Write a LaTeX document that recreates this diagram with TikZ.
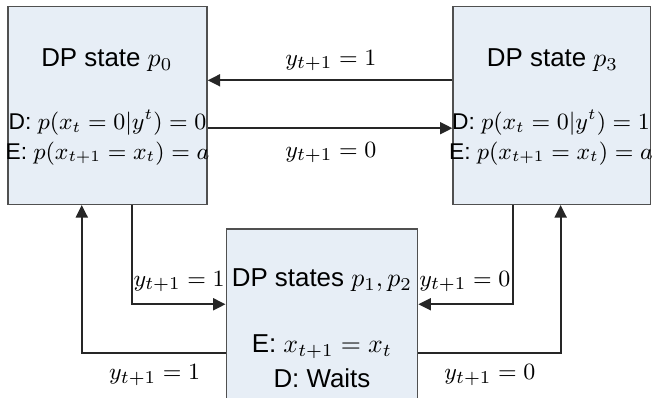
\documentclass[tikz,border=0pt]{standalone}
\usepackage{fontspec}
\setsansfont{Liberation Sans}
\usepackage{xcolor}
\usepackage{tikz}
\usetikzlibrary{arrows.meta,positioning,calc}
\definecolor{dpF}{HTML}{E7EEF6}
\definecolor{dpD}{HTML}{505050}

\begin{document}
\begin{tikzpicture}[x=1cm,y=1cm, font=\sffamily\fontsize{10}{12}\selectfont,
  state/.style={draw=dpD, line width=0.5pt, fill=dpF, inner sep=0pt},
  rule/.style={inner sep=0pt, font=\sffamily\fontsize{8.8}{10}\selectfont},
  arr/.style={-{Triangle[length=4.8pt,width=4.6pt]}, line width=0.8pt, draw=black!85},
  lab/.style={inner sep=1pt, font=\fontsize{9.5}{11}\selectfont},
  ]
\useasboundingbox (0,0) rectangle (8.85,5.39);
% ---- the states
\node[state, minimum width=2.70cm, minimum height=2.69cm] (p0)  at (1.46,3.96) {};
\node[state, minimum width=2.68cm, minimum height=2.69cm] (p3)  at (7.49,3.96) {};
\node[state, minimum width=2.60cm, minimum height=2.50cm] (p12) at (4.37,1.03) {};
% ---- what they hold
\node (t0)  at (1.45,4.57) {DP state $p_0$};
\node[rule] (d0)  at (1.46,3.72) {D: $p(x_t=0|y^t)=0$};
\node[rule] (e0)  at (1.46,3.31) {E: $p(x_{t+1}=x_t)=a$};
\node (t3)  at (7.50,4.57) {DP state $p_3$};
\node[rule] (d3)  at (7.48,3.72) {D: $p(x_t=0|y^t)=1$};
\node[rule] (e3)  at (7.48,3.31) {E: $p(x_{t+1}=x_t)=a$};
\node (t12) at (4.37,1.59) {DP states $p_1,p_2$};
\node (e12) at (4.37,0.68) {E: $x_{t+1}=x_t$};
\node (w12) at (4.37,0.26) {D: Waits};
% ---- the moves
\draw[arr] ([yshift=0.34cm]p3.west) -- ([yshift=0.34cm]p0.east);
\draw[arr] ([yshift=-0.31cm]p0.east) -- ([yshift=-0.31cm]p3.west);
\draw[arr] ([xshift=0.33cm]p0.south) |- ([yshift=0.23cm]p12.west);
\draw[arr] ([yshift=-0.43cm]p12.west) -| ([xshift=-0.35cm]p0.south);
\draw[arr] ([xshift=-0.53cm]p3.south) |- ([yshift=0.23cm]p12.east);
\draw[arr] ([yshift=-0.43cm]p12.east) -| ([xshift=0.12cm]p3.south);
\node[lab] (l1) at (4.49,4.57) {$y_{t+1}=1$};
\node[lab] (l2) at (4.49,3.32) {$y_{t+1}=0$};
\node[lab] (l3) at (2.43,1.57) {$y_{t+1}=1$};
\node[lab] (l4) at (2.10,0.30) {$y_{t+1}=1$};
\node[lab] (l5) at (6.31,1.57) {$y_{t+1}=0$};
\node[lab] (l6) at (6.65,0.30) {$y_{t+1}=0$};
\end{tikzpicture}
\end{document}
